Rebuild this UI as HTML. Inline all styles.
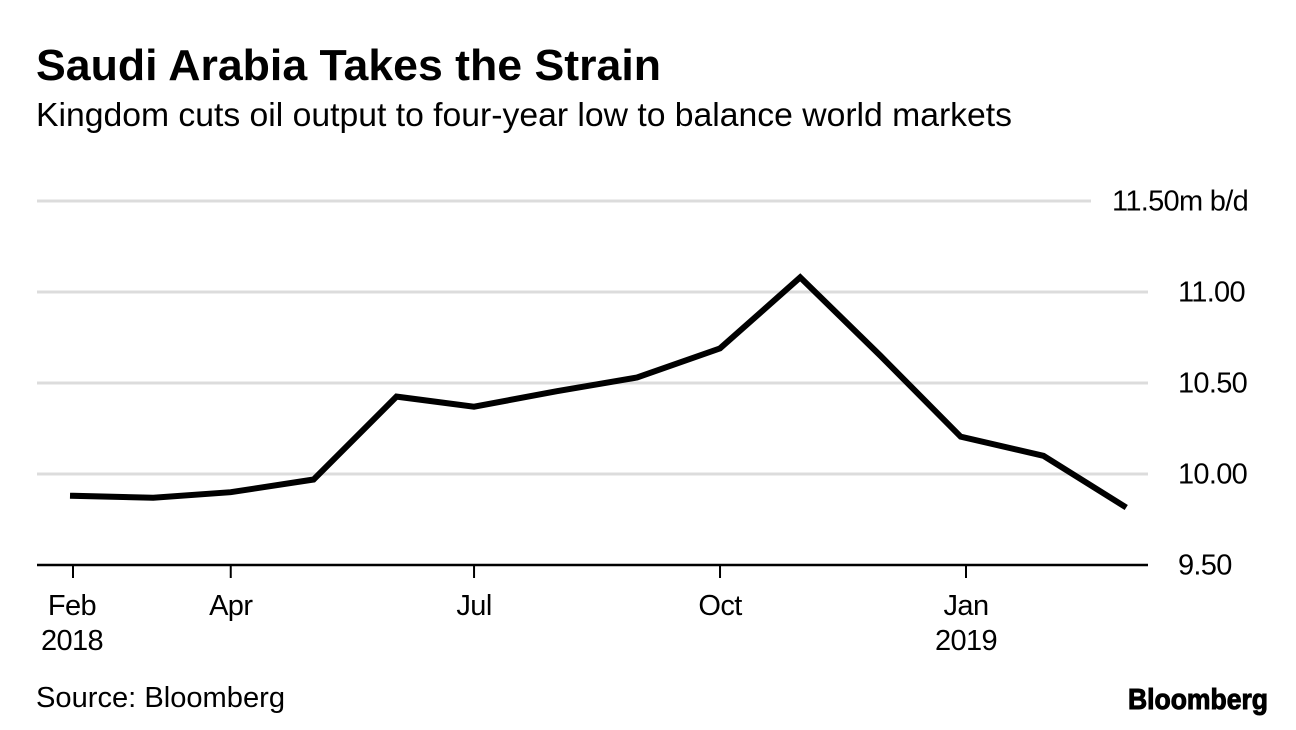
<!DOCTYPE html>
<html lang="en">
<head>
<meta charset="utf-8">
<title>Saudi Arabia Takes the Strain</title>
<style>
html,body{margin:0;padding:0;background:#fff;width:1296px;height:730px;overflow:hidden}
svg{display:block}
text{font-family:"Liberation Sans",Arial,sans-serif;fill:#000}
</style>
</head>
<body>
<svg id="chart" width="1296" height="730" viewBox="0 0 1296 730" xmlns="http://www.w3.org/2000/svg">
<rect x="0" y="0" width="1296" height="730" fill="#fff"/>
<text x="36" y="80" font-size="44" font-weight="700" textLength="625" lengthAdjust="spacingAndGlyphs">Saudi Arabia Takes the Strain</text>
<text x="36" y="126" font-size="33" textLength="976" lengthAdjust="spacingAndGlyphs">Kingdom cuts oil output to four-year low to balance world markets</text>
<g id="grid"></g>
<g id="yticks"></g>
<g id="xaxis"></g>
<g id="plot"></g>
<text x="36" y="707" font-size="29" textLength="249" lengthAdjust="spacingAndGlyphs">Source: Bloomberg</text>
<text x="1128" y="709" font-size="29" font-weight="700" textLength="140" lengthAdjust="spacingAndGlyphs" stroke="#000" stroke-width="1">Bloomberg</text>
</svg>
<script>
const dates = ["2018-02-01","2018-03-03","2018-04-01","2018-05-02","2018-06-02","2018-07-01","2018-08-01","2018-08-31","2018-10-01","2018-10-31","2018-11-30","2018-12-30","2019-01-30","2019-03-01"];
const outputValues = [9.88,9.87,9.90,9.97,10.425,10.37,10.455,10.53,10.69,11.08,10.65,10.205,10.10,9.825];
const yTicks = [9.5,10,10.5,11,11.5];
const yTickLabels = ["9.50","10.00","10.50","11.00","11.50m b/d"];
const xTickDates = ["2018-02-01","2018-04-01","2018-07-01","2018-10-01","2019-01-01"];
const xTickMonths = ["Feb","Apr","Jul","Oct","Jan"];
const xTickYears = ["2018","","","","2019"];

const NS = "http://www.w3.org/2000/svg";
const T0 = Date.UTC(2018,1,1);
const T1 = Date.UTC(2019,0,1);
function parseDate(s){
  const p = s.split("-").map(Number);
  return Date.UTC(p[0],p[1]-1,p[2]);
}
function xScale(s){
  return 73 + (parseDate(s)-T0)/(T1-T0)*(966-73);
}
function yScale(v){
  return 565 - (v-9.5)/(11.5-9.5)*(565-201);
}
function make(parent,tag,attrs){
  const el = document.createElementNS(NS,tag);
  Object.keys(attrs).forEach(function(k){el.setAttribute(k,attrs[k]);});
  parent.appendChild(el);
  return el;
}
const grid = document.getElementById("grid");
const yG = document.getElementById("yticks");
const xG = document.getElementById("xaxis");
const plot = document.getElementById("plot");

yTicks.forEach(function(v,i){
  const y = yScale(v);
  const isTop = i === yTicks.length-1;
  if(i>0){
    const ln = make(grid,"line",{x1:37,x2:isTop?1091:1148,y1:y,y2:y,stroke:"#dcdcdc","stroke-width":3});
    
    
  }
  const t = make(yG,"text",{x:isTop?1248:1178,y:y+9.5,"font-size":29,"text-anchor":isTop?"end":"start","letter-spacing":"-0.7"});
  t.textContent = yTickLabels[i];
  
  
});

const axisLine = make(xG,"line",{x1:37,x2:1148,y1:565,y2:565,stroke:"#000","stroke-width":2.5});



xTickDates.forEach(function(d,i){
  const x = xScale(d);
  const tick = make(xG,"line",{x1:x,x2:x,y1:565,y2:578,stroke:"#000","stroke-width":2});
  
  
  const m = make(xG,"text",{x:i===0?72:x,y:615,"font-size":29,"text-anchor":"middle","letter-spacing":"-0.6"});
  m.textContent = xTickMonths[i];
  
  
  if(xTickYears[i]){
    const yr = make(xG,"text",{x:i===0?72:x,y:650,"font-size":29,"text-anchor":"middle","letter-spacing":"-0.6"});
    yr.textContent = xTickYears[i];
    
    
  }
});

const pts = dates.map(function(d,i){
  return xScale(d).toFixed(1)+","+yScale(outputValues[i]).toFixed(1);
}).join(" ");
const series = make(plot,"polyline",{points:pts,fill:"none",stroke:"#000","stroke-width":6,"stroke-linejoin":"miter","stroke-linecap":"square"});


</script>
</body>
</html>
